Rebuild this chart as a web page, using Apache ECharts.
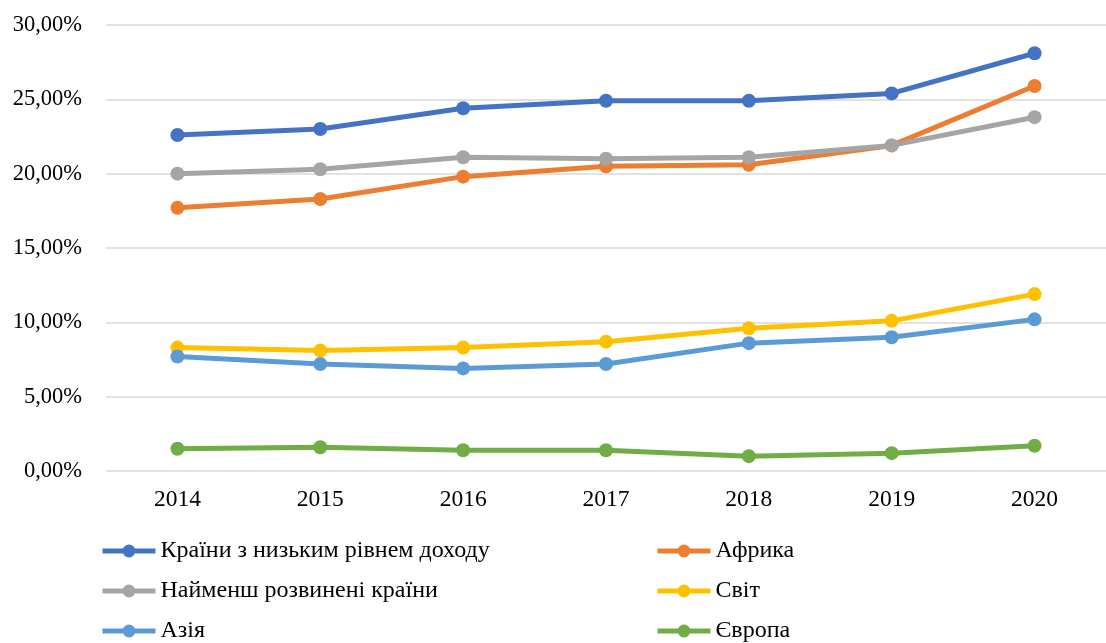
<!DOCTYPE html>
<html>
<head>
<meta charset="utf-8">
<script src="https://cdn.jsdelivr.net/npm/echarts@6/dist/echarts.min.js"></script>
<style>
  html, body { margin: 0; padding: 0; background: #fff; }
  #chart { width: 1106px; height: 643px; }
</style>
</head>
<body>
<div id="chart"></div>
<script>
// Years on the category axis
const years = ['2014', '2015', '2016', '2017', '2018', '2019', '2020'];

// Shares, in percent
const lowIncome = [22.6, 23.0, 24.4, 24.9, 24.9, 25.4, 28.1];
const africa = [17.7, 18.3, 19.8, 20.5, 20.6, 21.9, 25.9];
const leastDeveloped = [20.0, 20.3, 21.1, 21.0, 21.1, 21.9, 23.8];
const world = [8.3, 8.1, 8.3, 8.7, 9.6, 10.1, 11.9];
const asia = [7.7, 7.2, 6.9, 7.2, 8.6, 9.0, 10.2];
const europe = [1.5, 1.6, 1.4, 1.4, 1.0, 1.2, 1.7];

const names = {
  lowIncome: 'Країни з низьким рівнем доходу',
  africa: 'Африка',
  leastDeveloped: 'Найменш розвинені країни',
  world: 'Світ',
  asia: 'Азія',
  europe: 'Європа'
};

const FONT = '"Liberation Serif", "DejaVu Serif", serif';

function lineSeries(name, data, color) {
  return {
    name: name,
    type: 'line',
    data: data,
    symbol: 'circle',
    symbolSize: 14,
    lineStyle: { width: 5, color: color },
    itemStyle: { color: color },
    emphasis: { disabled: true },
    animation: false
  };
}

const legendCommon = {
  orient: 'vertical',
  itemWidth: 53,
  itemHeight: 16,
  itemGap: 16,
  top: 539,
  height: 200,
  padding: 0,
  lineStyle: { width: 5 },
  textStyle: { fontFamily: FONT, fontSize: 24, color: '#000', lineHeight: 24 },
  selectedMode: false
};

const chart = echarts.init(document.getElementById('chart'));
chart.setOption({
  backgroundColor: '#fff',
  grid: { left: 106, top: 25, width: 1010, height: 446 },
  legend: [
    Object.assign({ left: 100, data: [names.lowIncome, names.leastDeveloped, names.asia] }, legendCommon),
    Object.assign({ left: 655, data: [names.africa, names.world, names.europe] }, legendCommon)
  ],
  xAxis: {
    type: 'category',
    data: years,
    boundaryGap: true,
    axisLine: { show: false },
    axisTick: { show: false },
    axisLabel: { fontFamily: FONT, fontSize: 23.5, color: '#000', margin: 17 }
  },
  yAxis: {
    type: 'value',
    min: 0,
    max: 30,
    interval: 5,
    axisLine: { show: false },
    axisTick: { show: false },
    splitLine: { lineStyle: { color: '#d9d9d9', width: 1.5 } },
    axisLabel: {
      fontFamily: FONT, fontSize: 22.5, color: '#000', margin: 24,
      formatter: v => v.toFixed(2).replace('.', ',') + '%'
    }
  },
  series: [
    lineSeries(names.lowIncome, lowIncome, '#4472C4'),
    lineSeries(names.africa, africa, '#ED7D31'),
    lineSeries(names.leastDeveloped, leastDeveloped, '#A5A5A5'),
    lineSeries(names.world, world, '#FFC000'),
    lineSeries(names.asia, asia, '#5B9BD5'),
    lineSeries(names.europe, europe, '#70AD47')
  ]
});
</script>
</body>
</html>
